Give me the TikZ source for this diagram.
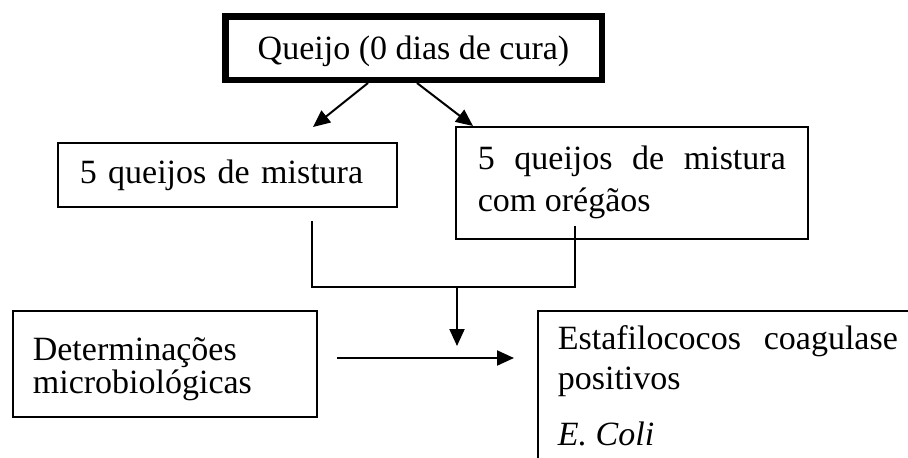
\documentclass[tikz,border=0pt]{standalone}
\usepackage{fontspec}
\setmainfont{Liberation Serif}
\usetikzlibrary{positioning,arrows.meta}
\tolerance=9999

\begin{document}
\begin{tikzpicture}[
			x=0.5pt, y=-0.5pt,
			caixa/.style = {draw, line width=.85pt, anchor=north west, inner xsep=11pt, inner ysep=0pt,
				font=\fontsize{17}{21}\selectfont},
			seta/.style = {-{Triangle[length=8.5pt,width=7.5pt]}, line width=1pt},
			linha/.style = {line width=1pt}
		]
		\clip (0,0) rectangle (908,457);
		% Top.
		\node[draw, line width=3.25pt, minimum width=188.25pt, minimum height=31.75pt, text depth=.5pt,
			font=\fontsize{17}{21}\selectfont] (queijo) at (413.5,48) {Queijo (0 dias de cura)};
		% Samples.
		\node[caixa, text width=147.5pt, minimum height=32pt, align=left] (mistura) at (57,142)
			{5 queijos de mistura};
		\node[caixa, text width=154pt, minimum height=56pt, align=justify] (oregaos) at (455,126)
			{5 queijos de mistura com orégãos};
		% Analyses.
		\node[caixa, inner xsep=10pt, text width=132pt, text height=17pt, minimum height=53pt, align=left,
			font=\fontsize{17}{16.5}\selectfont] (determ) at (12,310)
			{Determinações\\microbiológicas};
		\node[caixa, inner xsep=10pt, inner ysep=7.25pt, text width=170pt, text depth=60pt, align=justify,
			font=\fontsize{17}{20}\selectfont] (estafilo) at (537,310)
			{Estafilococos coagulase positivos\par\vspace{8pt}\textit{E. Coli}};

		\coordinate (pontaMistura) at (313,127);
		\coordinate (saidaMistura) at (312,221);
		\coordinate (saidaOregaos) at (575,226);
		\coordinate (juncao) at (457,287);
		\coordinate (pontaJuncao) at (457,346);
		\coordinate (inicioSeta) at (337,358);
		\coordinate (pontaSeta) at (514,358);

		\draw[seta] ([xshift=-22.75pt]queijo.south) to (pontaMistura);
		\draw[seta] ([xshift=1.75pt]queijo.south) to ([xshift=9pt]oregaos.north west);
		\draw[linha] (saidaMistura) |- (juncao) -| (saidaOregaos);
		\draw[seta] (juncao) to (pontaJuncao);
		\draw[seta] (inicioSeta) to (pontaSeta);
	\end{tikzpicture}
\end{document}
